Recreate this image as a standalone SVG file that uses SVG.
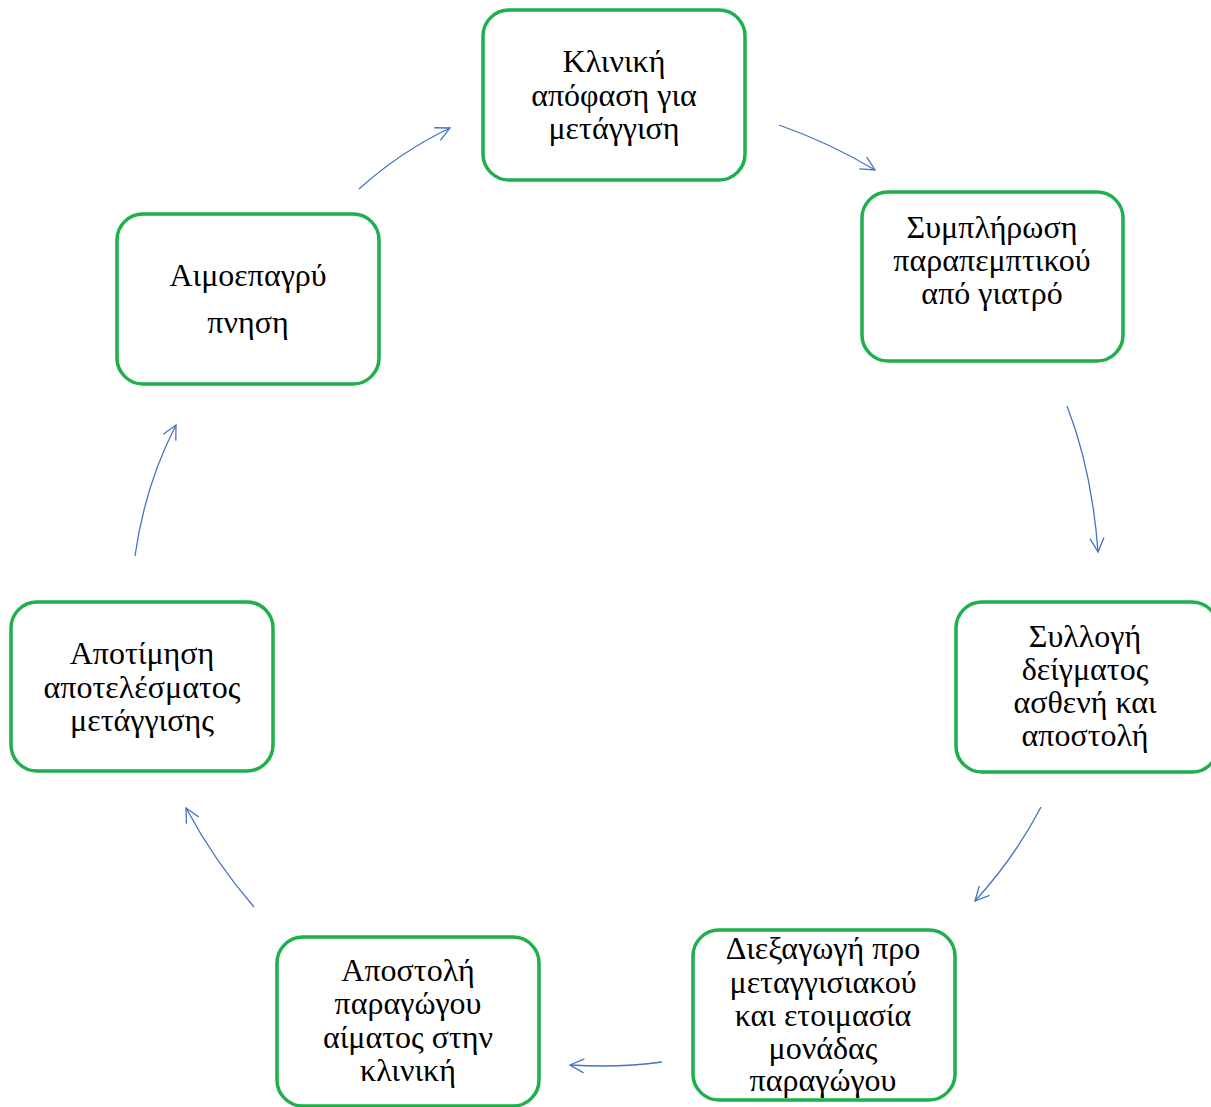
<svg xmlns="http://www.w3.org/2000/svg" width="1211" height="1107" viewBox="0 0 1211 1107">
  <defs>
    <style>
      .box { fill: #ffffff; stroke: #1db04b; stroke-width: 3.5; }
      .lbl { font-family: "Liberation Serif", "Times New Roman", serif; font-size: 32px; fill: #000000; text-anchor: middle; }
      .conn { fill: none; stroke: #4472c4; stroke-width: 1.3; marker-end: url(#arrow); }
    </style>
    <marker id="arrow" markerUnits="userSpaceOnUse" markerWidth="20" markerHeight="20" refX="16" refY="8" orient="auto">
      <path d="M2,1 L16,8 L2,15" fill="none" stroke="#4472c4" stroke-width="1.3"/>
    </marker>
  </defs>
  <rect width="1211" height="1107" fill="#ffffff"/>

  <g id="connectors">
    <path class="conn" d="M779,125 Q830,143 875,170"/>
    <path class="conn" d="M1067,406 Q1092,470 1098,552"/>
    <path class="conn" d="M1041,807 Q1015,857 975,901"/>
    <path class="conn" d="M662,1062 Q620,1068 570,1065"/>
    <path class="conn" d="M254,907 Q215,862 186,808"/>
    <path class="conn" d="M135,556 Q145,485 176,425"/>
    <path class="conn" d="M359,189 Q400,152 450,128"/>
  </g>

  <g id="node-clinical-decision">
    <rect class="box" x="483" y="10" width="262" height="170" rx="26"/>
    <text class="lbl" x="614"><tspan x="614" y="72">Κλινική</tspan><tspan x="614" y="106">απόφαση για</tspan><tspan x="614" y="139">μετάγγιση</tspan></text>
  </g>

  <g id="node-referral">
    <rect class="box" x="862" y="192" width="261" height="169" rx="26"/>
    <text class="lbl" x="992"><tspan x="992" y="238">Συμπλήρωση</tspan><tspan x="992" y="271">παραπεμπτικού</tspan><tspan x="992" y="304">από γιατρό</tspan></text>
  </g>

  <g id="node-sample">
    <rect class="box" x="956" y="602" width="262" height="170" rx="26"/>
    <text class="lbl" x="1085"><tspan x="1085" y="647">Συλλογή</tspan><tspan x="1085" y="680">δείγματος</tspan><tspan x="1085" y="713">ασθενή και</tspan><tspan x="1085" y="746">αποστολή</tspan></text>
  </g>

  <g id="node-pretransfusion">
    <rect class="box" x="693" y="930" width="262" height="170" rx="26"/>
    <text class="lbl" x="823"><tspan x="823" y="959">Διεξαγωγή προ</tspan><tspan x="823" y="993">μεταγγισιακού</tspan><tspan x="823" y="1026">και ετοιμασία</tspan><tspan x="823" y="1059">μονάδας</tspan><tspan x="823" y="1091">παραγώγου</tspan></text>
  </g>

  <g id="node-dispatch">
    <rect class="box" x="277" y="937" width="262" height="169" rx="26"/>
    <text class="lbl" x="408"><tspan x="408" y="981">Αποστολή</tspan><tspan x="408" y="1014">παραγώγου</tspan><tspan x="408" y="1048">αίματος στην</tspan><tspan x="408" y="1081">κλινική</tspan></text>
  </g>

  <g id="node-evaluation">
    <rect class="box" x="11" y="602" width="262" height="169" rx="26"/>
    <text class="lbl" x="142"><tspan x="142" y="664">Αποτίμηση</tspan><tspan x="142" y="698">αποτελέσματος</tspan><tspan x="142" y="731">μετάγγισης</tspan></text>
  </g>

  <g id="node-haemovigilance">
    <rect class="box" x="117" y="214" width="262" height="170" rx="26"/>
    <text class="lbl" x="248"><tspan x="248" y="286">Αιμοεπαγρύ</tspan><tspan x="248" y="333">πνηση</tspan></text>
  </g>
</svg>
